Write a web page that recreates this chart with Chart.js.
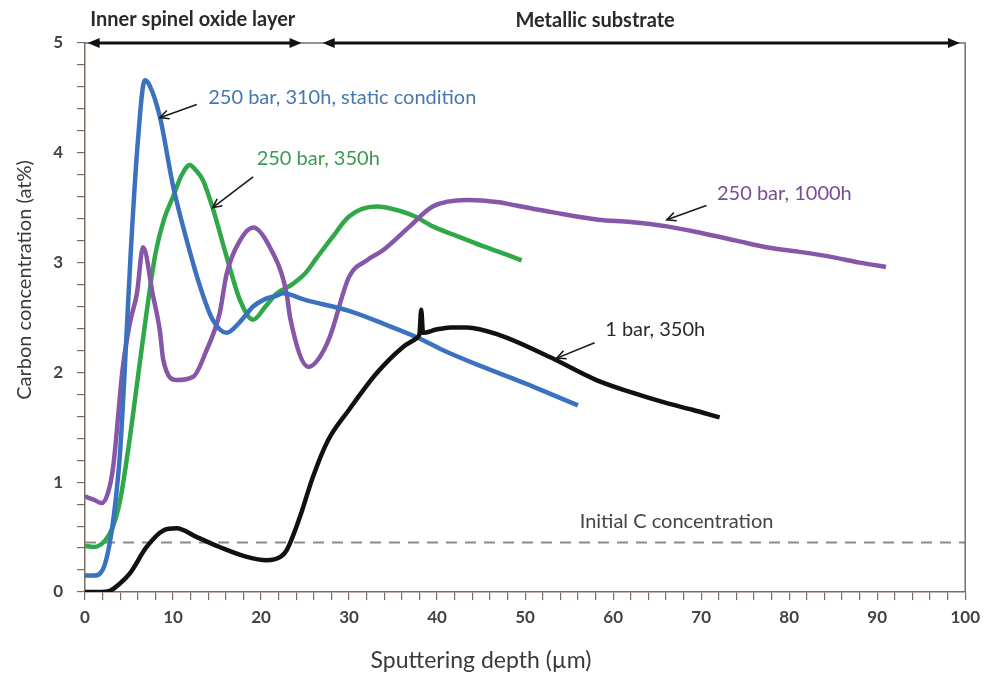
<!DOCTYPE html>
<html>
<head>
<meta charset="utf-8">
<script src="https://cdn.jsdelivr.net/npm/chart.js@4"></script>
<style>
html,body{margin:0;padding:0;background:#fff;}
#wrap{width:987px;height:673px;}
</style>
</head>
<body>
<div id="wrap"><canvas id="c" width="987" height="673"></canvas></div>
<script>
// ---- data ----
const blueX = [0, 1, 2, 2.8, 3.5, 4.0, 4.5, 5.2, 6.0, 6.8, 7.3, 8.5, 10, 11.5, 13, 14.5, 16.1, 17.5, 19.1, 20.5, 21.8, 22.5, 25, 30, 34, 37.7, 41, 45.2, 50, 53, 56];
const blueY = [0.15, 0.15, 0.2, 0.44, 0.85, 1.29, 2.0, 3.1, 4.1, 4.66, 4.62, 4.33, 3.7, 3.22, 2.8, 2.48, 2.36, 2.45, 2.6, 2.67, 2.7, 2.72, 2.66, 2.56, 2.44, 2.32, 2.19, 2.05, 1.9, 1.8, 1.7];

const greenX = [0, 1, 2.3, 3.2, 4, 5, 6, 7, 8, 9, 10, 11, 11.9, 12.6, 13.4, 14.5, 16.1, 17.6, 19.1, 20.5, 21.8, 23.5, 25.0, 26.3, 28, 30, 33.1, 35.8, 37.5, 39.5, 42, 45.2, 48, 49.6];
const greenY = [0.42, 0.41, 0.47, 0.6, 0.84, 1.35, 1.95, 2.55, 3.08, 3.4, 3.6, 3.8, 3.89, 3.84, 3.75, 3.5, 3.05, 2.66, 2.48, 2.6, 2.72, 2.8, 2.9, 3.04, 3.22, 3.42, 3.51, 3.47, 3.42, 3.33, 3.25, 3.15, 3.07, 3.02];

const purpleX = [0, 1, 1.9, 2.6, 3.2, 4.3, 5.1, 5.9, 6.6, 7.7, 8.5, 8.9, 10.4, 12.3, 13.8, 15.3, 16.1, 17.6, 19.1, 21, 22.9, 23.3, 25.4, 26.5, 27.8, 30, 32, 33.8, 36.9, 39.5, 43.4, 47, 49, 53, 58.3, 62, 66.1, 70, 74, 77.4, 81, 84.9, 88, 91];
const purpleY = [0.87, 0.84, 0.81, 0.9, 1.14, 2.05, 2.45, 2.72, 3.14, 2.71, 2.38, 2.11, 1.93, 1.96, 2.2, 2.54, 2.9, 3.2, 3.32, 3.14, 2.72, 2.5, 2.05, 2.12, 2.32, 2.87, 3.02, 3.11, 3.33, 3.51, 3.57, 3.55, 3.52, 3.46, 3.39, 3.37, 3.33, 3.27, 3.2, 3.14, 3.1, 3.05, 3.0, 2.96];

const blackX = [0, 1.5, 2.8, 4, 5.1, 7, 8.9, 10.4, 12.7, 15.3, 18.4, 20.6, 22.2, 22.9, 24.4, 25.9, 27.6, 30, 33.1, 36.1, 37.8, 38.0, 38.2, 38.4, 39.9, 41.5, 43.4, 47.1, 52.8, 58.1, 62, 66.1, 69, 72.1];
const blackY = [0, 0, 0.01, 0.08, 0.17, 0.41, 0.56, 0.58, 0.5, 0.41, 0.32, 0.29, 0.32, 0.38, 0.68, 1.05, 1.38, 1.66, 1.99, 2.23, 2.32, 2.35, 2.57, 2.36, 2.39, 2.41, 2.41, 2.34, 2.14, 1.93, 1.82, 1.72, 1.66, 1.59];

const initialX = [0, 100];
const initialY = [0.45, 0.45];

const xTickLabels = [0, 10, 20, 30, 40, 50, 60, 70, 80, 90, 100];
const yTickLabels = [0, 1, 2, 3, 4, 5];

const seriesNames = ['1 bar, 350h', '250 bar, 310h, static condition', '250 bar, 1000h', '250 bar, 350h', 'Initial C concentration'];
const xTitle = 'Sputtering depth (µm)';
const yTitle = 'Carbon concentration (at%)';

function pts(xs, ys){ return xs.map((x,i)=>({x:x, y:ys[i]})); }

const FONT = 'Lato, "Open Sans", sans-serif';
const AXIS = '#7d6c62';

// annotation plugin: callouts, arrows, frame, axis titles
const annot = {
  id:'annot',
  afterDatasetsDraw(chart){
    const ctx = chart.ctx, xs = chart.scales.x, ys = chart.scales.y;
    const X = v=>xs.getPixelForValue(v), Y = v=>ys.getPixelForValue(v);
    const a = chart.chartArea;
    ctx.save();
    // frame top/right
    ctx.strokeStyle = AXIS; ctx.lineWidth = 1.5;
    ctx.beginPath(); ctx.moveTo(a.left, a.top); ctx.lineTo(a.right, a.top); ctx.lineTo(a.right, a.bottom); ctx.stroke();

    function callout(x1,y1,x2,y2){
      const px1=X(x1), py1=Y(y1), px2=X(x2), py2=Y(y2);
      ctx.strokeStyle='#1a1a1a'; ctx.lineWidth=1.6;
      ctx.beginPath(); ctx.moveTo(px1,py1); ctx.lineTo(px2,py2); ctx.stroke();
      const ang=Math.atan2(py2-py1, px2-px1), L=10, w=0.45;
      ctx.beginPath();
      ctx.moveTo(px2 - L*Math.cos(ang-w), py2 - L*Math.sin(ang-w));
      ctx.lineTo(px2,py2);
      ctx.lineTo(px2 - L*Math.cos(ang+w), py2 - L*Math.sin(ang+w));
      ctx.stroke();
    }
    function text(t, x, y, color, bold){
      ctx.fillStyle=color; ctx.font=(bold?'bold ':'')+'20px '+FONT;
      ctx.textAlign='left'; ctx.textBaseline='middle';
      ctx.fillText(t, X(x), Y(y));
    }
    callout(12.7,4.44, 8.5,4.32);
    text(seriesNames[1], 14.0, 4.50, '#4577b0');
    callout(19.1,3.78, 14.5,3.50);
    text(seriesNames[3], 19.5, 3.95, '#3b9a52');
    callout(70.6,3.52, 66.1,3.39);
    text(seriesNames[2], 71.8, 3.63, '#7b4c92');
    callout(57.9,2.27, 53.6,2.13);
    text(seriesNames[0], 59.1, 2.39, '#2a2a2a');
    text(seriesNames[4], 56.2, 0.64, '#444444');

    function dbl(x1,x2){
      const px1=X(x1), px2=X(x2), py=Y(5);
      ctx.strokeStyle='#111'; ctx.fillStyle='#111'; ctx.lineWidth=3;
      ctx.beginPath(); ctx.moveTo(px1+6,py); ctx.lineTo(px2-6,py); ctx.stroke();
      ctx.beginPath(); ctx.moveTo(px1,py); ctx.lineTo(px1+12,py-5); ctx.lineTo(px1+12,py+5); ctx.closePath(); ctx.fill();
      ctx.beginPath(); ctx.moveTo(px2,py); ctx.lineTo(px2-12,py-5); ctx.lineTo(px2-12,py+5); ctx.closePath(); ctx.fill();
    }
    dbl(0.3, 24.6);
    dbl(27.0, 99.4);
    text('Inner spinel oxide layer', 0.6, 5.21, '#2a2a2a', true);
    text('Metallic substrate', 48.9, 5.20, '#2a2a2a', true);

    // axis titles
    ctx.fillStyle='#3a3a3a'; ctx.textAlign='center'; ctx.textBaseline='middle';
    ctx.font='23px '+FONT;
    ctx.fillText(xTitle, 481, 661);
    ctx.translate(25, 280); ctx.rotate(-Math.PI/2);
    ctx.font='20px '+FONT;
    ctx.fillText(yTitle, 0, 0);
    ctx.restore();
  }
};

const isInt = v => Math.abs(v - Math.round(v)) < 1e-6;

new Chart(document.getElementById('c'), {
  type:'line',
  data:{
    datasets:[
      {label:seriesNames[0], data:pts(blackX,blackY), borderColor:'#111111', borderWidth:4.5},
      {label:seriesNames[1], data:pts(blueX,blueY), borderColor:'#3a72c0', borderWidth:4.5},
      {label:seriesNames[2], data:pts(purpleX,purpleY), borderColor:'#8657a8', borderWidth:4.5},
      {label:seriesNames[3], data:pts(greenX,greenY), borderColor:'#2fa84a', borderWidth:4.5},
      {label:seriesNames[4], data:pts(initialX,initialY), borderColor:'#8a8a8a', borderWidth:2, borderDash:[11,8], cubicInterpolationMode:'default', tension:0}
    ]
  },
  options:{
    responsive:false, animation:false,
    layout:{padding:{left:0, top:43, right:21, bottom:0}},
    elements:{point:{radius:0}, line:{cubicInterpolationMode:'monotone', fill:false}},
    plugins:{legend:{display:false}, tooltip:{enabled:false}},
    scales:{
      x:{type:'linear', min:0, max:100,
        afterFit(s){ s.height = 81; },
        ticks:{stepSize:2, autoSkip:false, maxRotation:0, padding:7, color:'#444', font:{family:FONT, size:17, weight:'bold'},
          callback:(v)=> (isInt(v/10) && xTickLabels.includes(Math.round(v))) ? String(Math.round(v)) : ''},
        grid:{drawOnChartArea:false, drawTicks:true, tickLength:8, color:AXIS, lineWidth:1.2},
        border:{display:true, color:AXIS, width:1.5},
        title:{display:false}
      },
      y:{min:0, max:5,
        afterFit(s){ s.width = 85; },
        ticks:{stepSize:0.2, autoSkip:false, padding:14, color:'#444', font:{family:FONT, size:17, weight:'bold'},
          callback:(v)=> (isInt(v) && yTickLabels.includes(Math.round(v))) ? String(Math.round(v)) : ''},
        grid:{drawOnChartArea:false, drawTicks:true, tickLength:8, color:AXIS, lineWidth:1.2},
        border:{display:true, color:AXIS, width:1.5},
        title:{display:false}
      }
    }
  },
  plugins:[annot]
});
</script>
</body>
</html>
